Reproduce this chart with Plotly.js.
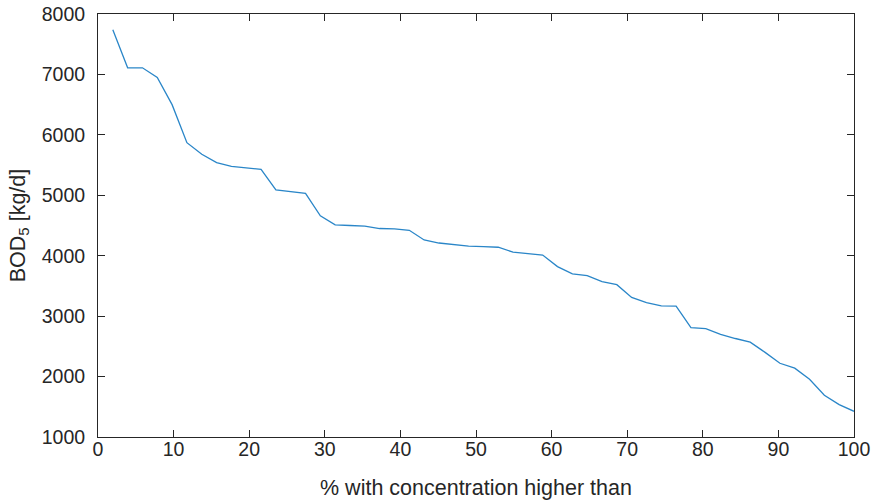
<!DOCTYPE html>
<html>
<head>
<meta charset="utf-8">
<script src="https://cdn.plot.ly/plotly-3.0.1.min.js"></script>
<style>
  html, body { margin: 0; padding: 0; background: #fff; }
  #chart { width: 871px; height: 503px; }
</style>
</head>
<body>
<div id="chart"></div>
<script>
// Exceedance curve of daily BOD5 load: share of days (%) on which the load is higher.
const exceedancePct = [
  1.96, 3.92, 5.88, 7.84, 9.80, 11.76, 13.73, 15.69, 17.65, 19.61,
  21.57, 23.53, 25.49, 27.45, 29.41, 31.37, 33.33, 35.29, 37.25, 39.22,
  41.18, 43.14, 45.10, 47.06, 49.02, 50.98, 52.94, 54.90, 56.86, 58.82,
  60.78, 62.75, 64.71, 66.67, 68.63, 70.59, 72.55, 74.51, 76.47, 78.43,
  80.39, 82.35, 84.31, 86.27, 88.24, 90.20, 92.16, 94.12, 96.08, 98.04,
  100.00
];
const bodLoad = [
  7740, 7110, 7110, 6950, 6500, 5870, 5680, 5540, 5480, 5460,
  5430, 5090, 5060, 5030, 4660, 4510, 4500, 4490, 4450, 4445,
  4420, 4260, 4210, 4180, 4160, 4150, 4140, 4060, 4035, 4010,
  3820, 3700, 3670, 3570, 3520, 3310, 3225, 3170, 3165, 2810,
  2795, 2700, 2630, 2570, 2400, 2220, 2140, 1955, 1690, 1535,
  1425
];
const xTicks = [0, 10, 20, 30, 40, 50, 60, 70, 80, 90, 100];
const yTicks = [1000, 2000, 3000, 4000, 5000, 6000, 7000, 8000];

const axisColor = '#262626';
const tickFont = { family: 'Liberation Sans, Arial, sans-serif', size: 19.5, color: axisColor };
const titleFont = { family: 'Liberation Sans, Arial, sans-serif', size: 21.5, color: axisColor };

const trace = {
  type: 'scatter',
  mode: 'lines',
  x: exceedancePct,
  y: bodLoad,
  line: { color: '#2a86c8', width: 1.3 },
  hoverinfo: 'x+y'
};

const commonAxis = {
  showgrid: false,
  zeroline: false,
  showline: true,
  linecolor: axisColor,
  linewidth: 1,
  mirror: 'ticks',
  ticks: 'inside',
  ticklen: 7,
  tickwidth: 1,
  tickcolor: axisColor,
  tickfont: tickFont,
  automargin: false
};

const layout = {
  width: 871,
  height: 503,
  paper_bgcolor: '#ffffff',
  plot_bgcolor: '#ffffff',
  showlegend: false,
  margin: { l: 98, r: 17, t: 14, b: 66 },
  xaxis: Object.assign({}, commonAxis, {
    range: [0, 100],
    tickvals: xTicks,
    ticktext: xTicks.map(String),
    ticklabelstandoff: -5,
    title: { text: '% with concentration higher than', font: titleFont, standoff: 20 }
  }),
  yaxis: Object.assign({}, commonAxis, {
    range: [1000, 8000],
    tickvals: yTicks,
    ticktext: yTicks.map(String),
    ticklabelstandoff: 8,
    title: { text: 'BOD<sub>5</sub> [kg/d]', font: titleFont, standoff: 10 }
  })
};

Plotly.newPlot('chart', [trace], layout, { displayModeBar: false, staticPlot: true });
</script>
</body>
</html>
